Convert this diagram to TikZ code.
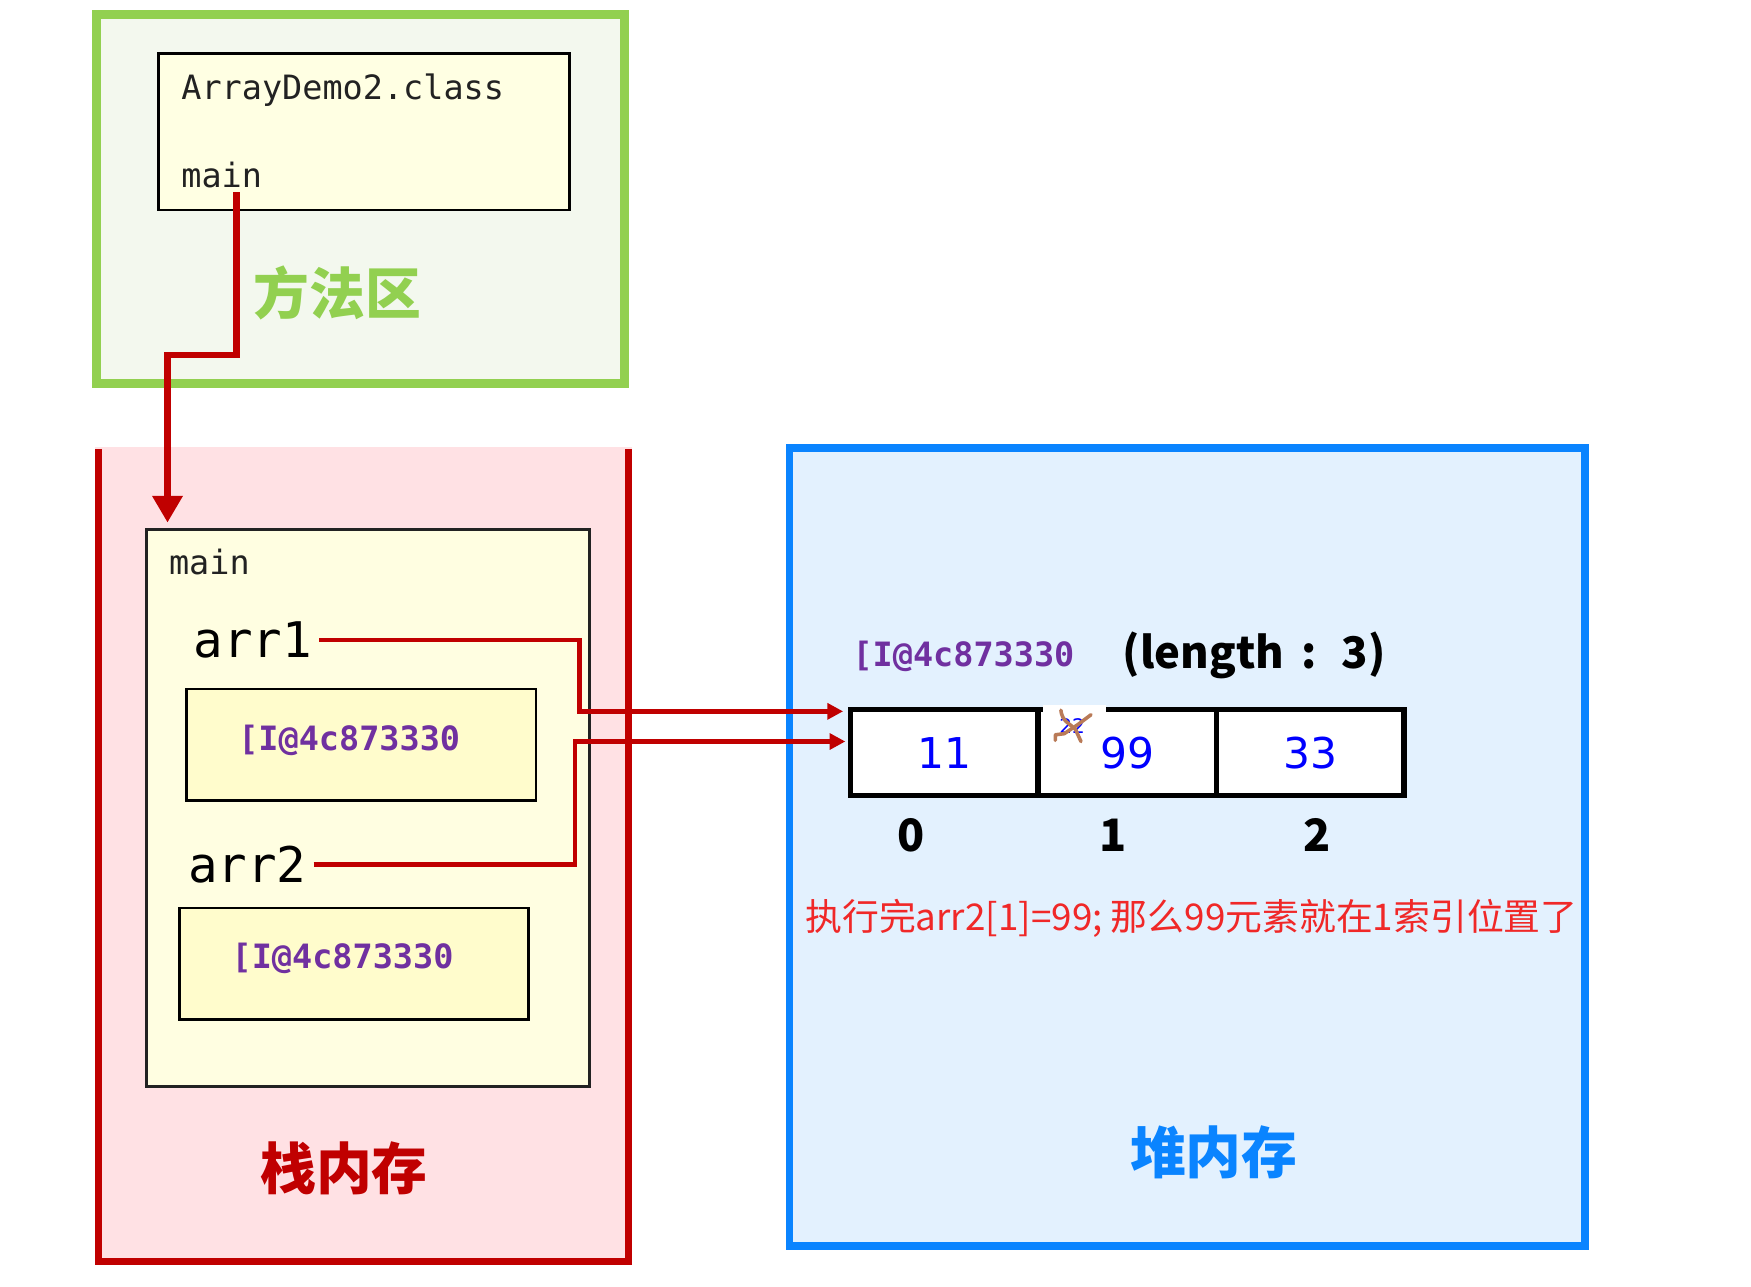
\documentclass[tikz,border=0pt]{standalone}
\usepackage{fontspec}
\setmainfont{DejaVu Sans}
\setmonofont{DejaVu Sans Mono}
\newfontfamily\cjk{Noto Sans CJK SC}
\usetikzlibrary{arrows.meta,calc}
\definecolor{greenB}{HTML}{92D050}
\definecolor{greenF}{HTML}{F3F8EE}
\definecolor{clsF}{HTML}{FFFFE3}
\definecolor{frameF}{HTML}{FFFEE1}
\definecolor{addrF}{HTML}{FFFCCC}
\definecolor{pinkF}{HTML}{FFE1E4}
\definecolor{redC}{HTML}{C00000}
\definecolor{blueB}{HTML}{0A84FF}
\definecolor{blueF}{HTML}{E3F1FE}
\definecolor{purp}{HTML}{7030A0}
\definecolor{txtgray}{HTML}{222222}
\definecolor{valblue}{HTML}{0000FF}
\definecolor{sentred}{HTML}{F02828}
\definecolor{scrib}{HTML}{B97A57}
\begin{document}
\begin{tikzpicture}[x=0.5pt,y=-0.5pt,
  region/.style={inner sep=0pt, outer sep=0pt, anchor=north west},
  box/.style={draw=black, line width=1.25pt, inner sep=0pt, outer sep=0pt, anchor=north west},
  cell/.style={draw=black, line width=2.5pt, fill=white, inner sep=0pt, anchor=north west, minimum height=38.5pt},
  smallmono/.style={font=\ttfamily\fontsize{15pt}{18pt}\selectfont, text=txtgray, inner sep=0pt, anchor=base west},
  bigmono/.style={font=\ttfamily\fontsize{22pt}{26pt}\selectfont, text=black, inner sep=0pt, inner xsep=3pt, anchor=west},
  addr/.style={font=\ttfamily\bfseries\fontsize{15pt}{18pt}\selectfont, text=purp, inner sep=0pt, anchor=west},
  title/.style={font=\cjk\bfseries\fontsize{25pt}{30pt}\selectfont, inner sep=0pt},
  val/.style={font=\fontsize{19pt}{22pt}\selectfont, text=valblue, inner sep=0pt},
  idx/.style={font=\cjk\bfseries\fontsize{20pt}{24pt}\selectfont, text=black, inner sep=0pt},
  conn/.style={draw=redC, line width=2pt, -{Triangle[length=7pt,width=7pt]}},
  mainconn/.style={draw=redC, line width=3pt, -{Triangle[length=12pt,width=13pt]}},
]
\useasboundingbox (0,0) rectangle (1568,1152);

% method area
\node[region, draw=greenB, fill=greenF, line width=4pt, minimum width=236.5pt, minimum height=165pt] (method) at (86,13) {};
\node[box, fill=clsF, minimum width=184pt, minimum height=70pt] (cls) at (142,48) {};
\node[smallmono] (clsname) at (162,89) {ArrayDemo2.class};
\node[smallmono] (clsmain) at (162,168) {main};
\node[title, text=greenB] (methodlbl) at (302,262) {方法区};

% stack
\node[region, fill=pinkF, minimum width=240.5pt, minimum height=366.5pt] (stack) at (85,400) {};
\draw[redC, line width=3.2pt] ([xshift=1.5pt,yshift=-1pt]stack.north west) -- ([xshift=1.5pt,yshift=1.5pt]stack.south west) -- ([xshift=-1.5pt,yshift=1.5pt]stack.south east) -- ([xshift=-1.5pt,yshift=-1pt]stack.north east);
\node[box, draw=txtgray, fill=frameF, minimum width=198.5pt, minimum height=249.5pt] (fr) at (131,474) {};
\node[smallmono] (frmain) at (151,514) {main};
\node[bigmono] (a1) at (167,573) {arr1};
\node[box, fill=addrF, minimum width=156.5pt, minimum height=50pt] (ab1) at (167,617) {};
\node[addr] (ad1) at (213,663) {[I@4c873330};
\node[bigmono] (a2) at (162,774) {arr2};
\node[box, fill=addrF, minimum width=156pt, minimum height=50pt] (ab2) at (161,813) {};
\node[addr] (ad2) at (207,858) {[I@4c873330};
\node[title, text=redC] (stacklbl) at (308,1046) {栈内存};

% heap
\node[region, draw=blueB, fill=blueF, line width=3.5pt, minimum width=356pt, minimum height=357.5pt] (heap) at (707,401) {};
\node[addr] (had) at (763,588) {[I@4c873330};
\node[font=\cjk\bfseries\fontsize{19.5pt}{23pt}\selectfont, inner sep=0pt, anchor=west] (len) at (1005,587) {(length\hspace{8pt}:\hspace{11pt}3)};
\node[cell, minimum width=84pt] (c0) at (759,633) {};
\node[cell, minimum width=80pt] (c1) at (927,633) {};
\node[cell, minimum width=84pt] (c2) at (1087,633) {};
\fill[white] (934,631) rectangle (990,637.5);
\node[val] (v0) at (c0.center) {11};
\node[val] (v1) at (c1.center) {99};
\node[val] (v2) at (c2.center) {33};
\node[font=\fontsize{9pt}{10pt}\selectfont, text=valblue, inner sep=0pt] (old) at (960,650) {22};
\draw[scrib, line width=1.6pt, line cap=round, line join=round] (950,636) .. controls (951,646) and (958,648) .. (963,653) -- (968,664);
\draw[scrib, line width=1.6pt, line cap=round, line join=round] (945,663) -- (945,658) -- (953,657) -- (965,649) -- (977,640);
\node[idx] (i0) at (816,748) {0};
\node[idx] (i1) at (997,748) {1};
\node[idx] (i2) at (1179,748) {2};
\node[font=\cjk\fontsize{16.5pt}{20pt}\selectfont, text=sentred, inner sep=0pt] (note) at (1067,822) {执行完arr2[1]=99; 那么99元素就在1索引位置了};
\node[title, text=blueB] (heaplbl) at (1087,1032) {堆内存};

% connectors
\coordinate (m0) at (212,172);
\coordinate (m1) at (150,318);
\draw[mainconn] (m0) |- (m1) -- ([yshift=3pt]m1 |- fr.north);
\coordinate (b1) at (519,637);
\coordinate (b2) at (515,664);
\draw[conn] (a1.east) -| (b1) -- ([xshift=-2pt]b1 -| c0.west);
\draw[conn] (a2.east) -| (b2) -- ([xshift=-1pt]b2 -| c0.west);
\end{tikzpicture}
\end{document}
